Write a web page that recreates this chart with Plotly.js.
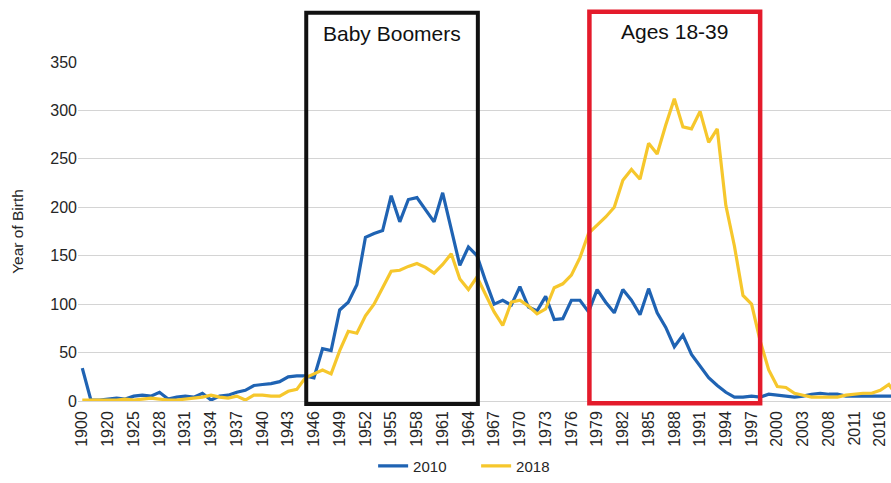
<!DOCTYPE html>
<html>
<head>
<meta charset="utf-8">
<script src="https://cdn.plot.ly/plotly-3.0.1.min.js"></script>
<style>
  html, body { margin: 0; padding: 0; background: #ffffff; }
  #chart { width: 891px; height: 483px; }
</style>
</head>
<body>
<div id="chart"></div>
<script>
// Categories (years present in the data, in order)
const years = [
  '1900','1910','1915','1920','1922','1924','1925','1926','1927','1928',
  '1929','1930','1931','1932','1933','1934','1935','1936','1937','1938',
  '1939','1940','1941','1942','1943','1944','1945','1946','1947','1948',
  '1949','1950','1951','1952','1953','1954','1955','1956','1957','1958',
  '1959','1960','1961','1962','1963','1964','1965','1966','1967','1968',
  '1969','1970','1971','1972','1973','1974','1975','1976','1977','1978',
  '1979','1980','1981','1982','1983','1984','1985','1986','1987','1988',
  '1989','1990','1991','1992','1993','1994','1995','1996','1997','1998',
  '1999','2000','2001','2002','2003','2005','2007','2008','2009','2010',
  '2011','2013','2015','2016','2017','2018'
];

// Labelled ticks
const tickLabels = [
  '1900','1920','1925','1928','1931','1934','1937','1940','1943','1946',
  '1949','1952','1955','1958','1961','1964','1967','1970','1973','1976',
  '1979','1982','1985','1988','1991','1994','1997','2000','2003','2008',
  '2011','2016'
];

// Series 2010
const series2010 = [
  34, 1, 1, 2, 3, 2, 5, 6, 5, 9,
  2, 4, 5, 4, 8, 1, 5, 6, 9, 11,
  16, 17, 18, 20, 25, 26, 26, 24, 54, 52,
  94, 102, 120, 169, 173, 176, 212, 185, 208, 210,
  197, 185, 215, 178, 140, 159, 150, 124, 100, 104,
  99, 118, 97, 93, 108, 84, 85, 104, 104, 92,
  115, 102, 91, 115, 104, 89, 116, 91, 76, 56,
  68, 48, 36, 24, 16, 9, 4, 4, 5, 4,
  7, 6, 5, 4, 5, 7, 8, 7, 7, 5,
  5, 5, 5, 5, 5, 5
];

// Series 2018
const series2018 = [
  1, 1, 1, 1, 1, 2, 1, 2, 3, 2,
  1, 1, 2, 3, 4, 6, 4, 3, 5, 1,
  6, 6, 5, 5, 10, 12, 24, 28, 32, 28,
  52, 72, 70, 88, 100, 117, 134, 135, 139, 142,
  138, 132, 141, 152, 126, 115, 128, 110, 92, 78,
  102, 104, 98, 90, 95, 117, 121, 130, 148, 173,
  181, 190, 200, 228, 239, 229, 266, 255, 285, 312,
  283, 281, 299, 267, 281, 202, 160, 109, 100, 62,
  32, 15, 14, 8, 6, 4, 4, 4, 4, 6,
  7, 8, 8, 11, 17, 5
];

const seriesNames = ['2010', '2018'];
const seriesColors = ['#1f63b3', '#f6c72c'];

const boxTitles = ['Baby Boomers', 'Ages 18-39'];

const traces = [
  {
    type: 'scatter', mode: 'lines', name: seriesNames[0],
    x: years, y: series2010,
    line: { color: seriesColors[0], width: 3.2 }
  },
  {
    type: 'scatter', mode: 'lines', name: seriesNames[1],
    x: years, y: series2018,
    line: { color: seriesColors[1], width: 3.2 }
  }
];

const layout = {
  width: 891, height: 483,
  margin: { l: 78, r: 0, t: 62, b: 82 },
  paper_bgcolor: '#ffffff',
  plot_bgcolor: '#ffffff',
  font: { family: 'Liberation Sans, Arial, sans-serif', color: '#262626' },
  showlegend: true,
  legend: {
    orientation: 'h', x: 0.363, xanchor: 'left', y: -0.241, yanchor: 'bottom',
    font: { size: 15, color: '#262626' }, bgcolor: 'rgba(0,0,0,0)',
    entrywidth: 58
  },
  xaxis: {
    type: 'category',
    range: [-0.5, 94.25],
    tickmode: 'array', tickvals: tickLabels, ticktext: tickLabels,
    tickangle: -90,
    tickfont: { size: 16, color: '#262626' },
    ticklabelstandoff: 6,
    showgrid: false, zeroline: false, showline: false, ticks: '',
    automargin: false
  },
  yaxis: {
    range: [0, 350], dtick: 50, tick0: 0,
    tickfont: { size: 16, color: '#262626' },
    gridcolor: '#d4d4d4', gridwidth: 1,
    zeroline: true, zerolinecolor: '#d4d4d4', zerolinewidth: 1,
    showline: false, ticks: '',
    title: { text: 'Year of Birth', font: { size: 15.5, color: '#262626' }, standoff: 22 },
    automargin: false
  },
  shapes: [
    {
      type: 'rect', xref: 'x', yref: 'paper',
      x0: 26.1, x1: 46.1, y0: -0.009, y1: 1.145,
      line: { color: '#111111', width: 4 }, fillcolor: 'rgba(0,0,0,0)'
    },
    {
      type: 'rect', xref: 'x', yref: 'paper',
      x0: 59.1, x1: 79.0, y0: -0.007, y1: 1.148,
      line: { color: '#e41b2b', width: 4.5 }, fillcolor: 'rgba(0,0,0,0)'
    }
  ],
  annotations: [
    {
      xref: 'x', yref: 'paper', x: 36.1, y: 1.085, text: boxTitles[0],
      showarrow: false, font: { size: 21, color: '#111111' }, xanchor: 'center', yanchor: 'middle'
    },
    {
      xref: 'x', yref: 'paper', x: 69.05, y: 1.09, text: boxTitles[1],
      showarrow: false, font: { size: 21, color: '#111111' }, xanchor: 'center', yanchor: 'middle'
    }
  ]
};

Plotly.newPlot('chart', traces, layout, { displayModeBar: false, staticPlot: true });
</script>
</body>
</html>
